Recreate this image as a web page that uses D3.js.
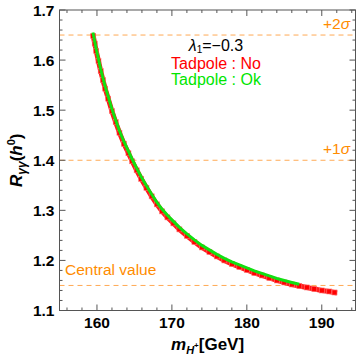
<!DOCTYPE html>
<html>
<head>
<meta charset="utf-8">
<script src="https://cdn.jsdelivr.net/npm/d3@7"></script>
<style>
  body { margin: 0; background: #fff; }
  svg text { font-family: "Liberation Sans", Arial, sans-serif; }
</style>
</head>
<body>
<svg id="chart" width="361" height="359"></svg>
<script>
// --- data ---
const massRed = [159.5, 159.7, 159.9, 160.2, 160.5, 160.8, 161.1, 161.5, 162.0, 162.5, 163.0, 163.6, 164.2, 164.7, 165.3, 165.9, 166.6, 167.3, 168.0, 168.7, 169.4, 170.2, 171.0, 172.0, 173.0, 174.0, 175.0, 176.0, 177.0, 178.0, 179.0, 180.0, 181.0, 182.0, 183.0, 184.0, 185.0, 186.0, 187.0, 188.0, 189.0, 190.0, 191.0, 191.7];
const rRed = [1.648, 1.633, 1.618, 1.598, 1.578, 1.560, 1.543, 1.523, 1.498, 1.476, 1.455, 1.433, 1.414, 1.398, 1.380, 1.363, 1.345, 1.328, 1.312, 1.298, 1.286, 1.274, 1.262, 1.249, 1.237, 1.226, 1.217, 1.208, 1.200, 1.193, 1.187, 1.181, 1.175, 1.170, 1.165, 1.160, 1.156, 1.152, 1.149, 1.146, 1.143, 1.140, 1.138, 1.136];
const massGreen = [159.5, 159.7, 159.9, 160.2, 160.5, 160.8, 161.1, 161.5, 162.0, 162.5, 163.0, 163.6, 164.2, 164.7, 165.3, 165.9, 166.6, 167.3, 168.0, 168.7, 169.4, 170.2, 171.0, 172.0, 173.0, 174.0, 175.0, 176.0, 177.0, 178.0, 179.0, 180.0, 181.0, 182.0, 183.0, 184.0, 185.0, 186.0, 186.8];
const rGreen = [1.652, 1.637, 1.622, 1.602, 1.582, 1.564, 1.547, 1.527, 1.502, 1.480, 1.459, 1.437, 1.418, 1.402, 1.384, 1.367, 1.349, 1.332, 1.316, 1.302, 1.290, 1.278, 1.266, 1.253, 1.241, 1.230, 1.221, 1.212, 1.204, 1.197, 1.191, 1.185, 1.179, 1.174, 1.169, 1.164, 1.160, 1.156, 1.153];

const xTicks = [160, 170, 180, 190];
const yTicks = [1.1, 1.2, 1.3, 1.4, 1.5, 1.6, 1.7];
const refLevels = [1.65, 1.4, 1.15];
const refLabels = ["+2", "+1", "Central value"];

// --- layout ---
const svg = d3.select("#chart");
const pLeft = 59.5, pRight = 355.5, pTop = 10, pBottom = 310.5;
const x = d3.scaleLinear().domain([155, 194.5]).range([pLeft, pRight]);
const y = d3.scaleLinear().domain([1.1, 1.7]).range([pBottom, pTop]);
const orange = "#ff8c00";
const frameColor = "#555";

// --- reference lines ---
svg.selectAll("line.ref").data(refLevels).join("line")
  .attr("class", "ref")
  .attr("x1", pLeft).attr("x2", pRight)
  .attr("y1", d => y(d)).attr("y2", d => y(d))
  .attr("stroke", "#ffaa55")
  .attr("stroke-width", 1)
  .attr("stroke-dasharray", "5,4");

// sigma labels (right aligned) and central value (left)
[0, 1].forEach(i => {
  svg.append("text").attr("x", 350).attr("y", y(refLevels[i]) - 6)
    .attr("text-anchor", "end").attr("font-size", 15.5).attr("fill", orange)
    .html(`${refLabels[i]}<tspan font-style="italic">\u03c3</tspan>`);
});
svg.append("text").attr("x", 65).attr("y", y(refLevels[2]) - 10)
  .attr("font-size", 15.5).attr("fill", orange)
  .text(refLabels[2]);

// --- scatter band ---
const redPts = massRed.map((m, i) => [m, rRed[i]]);
const greenPts = massGreen.map((m, i) => [m, rGreen[i]]);
const line = d3.line().x(d => x(d[0])).y(d => y(d[1]));

svg.append("path").datum(redPts)
  .attr("d", line).attr("fill", "none")
  .attr("stroke", "#ff1a1a").attr("stroke-width", 5)
  .attr("stroke-linecap", "square");
svg.selectAll("rect.red").data(redPts).join("rect")
  .attr("class", "red")
  .attr("x", d => x(d[0]) - 2.5).attr("y", d => y(d[1]) - 2.5)
  .attr("width", 5).attr("height", 5)
  .attr("fill", "#ff0000").attr("stroke", "#ff7777").attr("stroke-width", 0.6);

svg.append("path").datum(greenPts)
  .attr("d", line).attr("fill", "none")
  .attr("stroke", "#11e011").attr("stroke-width", 3)
  .attr("stroke-linecap", "square");

// --- frame + ticks ---
svg.append("rect")
  .attr("x", pLeft).attr("y", pTop)
  .attr("width", pRight - pLeft).attr("height", pBottom - pTop)
  .attr("fill", "none").attr("stroke", frameColor).attr("stroke-width", 1);

const xMinor = d3.range(156, 195, 2).filter(v => v % 10 !== 0);
const yMinor = d3.range(1.12, 1.7, 0.02).filter(v => Math.abs(v * 10 - Math.round(v * 10)) > 0.01);

const tg = svg.append("g").attr("stroke", frameColor).attr("stroke-width", 1);
xTicks.forEach(v => {
  tg.append("line").attr("x1", x(v)).attr("x2", x(v)).attr("y1", pBottom).attr("y2", pBottom - 6);
  tg.append("line").attr("x1", x(v)).attr("x2", x(v)).attr("y1", pTop).attr("y2", pTop + 6);
});
xMinor.forEach(v => {
  tg.append("line").attr("x1", x(v)).attr("x2", x(v)).attr("y1", pBottom).attr("y2", pBottom - 3);
  tg.append("line").attr("x1", x(v)).attr("x2", x(v)).attr("y1", pTop).attr("y2", pTop + 3);
});
yTicks.forEach(v => {
  tg.append("line").attr("x1", pLeft).attr("x2", pLeft + 6).attr("y1", y(v)).attr("y2", y(v));
  tg.append("line").attr("x1", pRight).attr("x2", pRight - 6).attr("y1", y(v)).attr("y2", y(v));
});
yMinor.forEach(v => {
  tg.append("line").attr("x1", pLeft).attr("x2", pLeft + 3).attr("y1", y(v)).attr("y2", y(v));
  tg.append("line").attr("x1", pRight).attr("x2", pRight - 3).attr("y1", y(v)).attr("y2", y(v));
});

// tick labels
svg.selectAll("text.xt").data(xTicks).join("text")
  .attr("class", "xt")
  .attr("x", d => x(d)).attr("y", 328)
  .attr("text-anchor", "middle").attr("font-size", 15.5).attr("font-weight", "bold")
  .text(d => d);
svg.selectAll("text.yt").data(yTicks).join("text")
  .attr("class", "yt")
  .attr("x", 54.5).attr("y", d => y(d) + 5.6)
  .attr("text-anchor", "end").attr("font-size", 15.5).attr("font-weight", "bold")
  .text(d => d.toFixed(1));

// --- axis titles ---
svg.append("text")
  .attr("x", 171).attr("y", 350)
  .attr("font-size", 17).attr("font-weight", "bold")
  .html(`<tspan font-style="italic">m</tspan><tspan font-style="italic" font-size="11" dy="4">H</tspan><tspan font-size="8" dy="-6">+</tspan><tspan dy="2">[GeV]</tspan>`);

svg.append("text")
  .attr("transform", `translate(22,${(pTop + pBottom) / 2}) rotate(-90)`)
  .attr("text-anchor", "middle")
  .attr("font-size", 17).attr("font-weight", "bold")
  .html(`<tspan font-style="italic">R</tspan><tspan font-style="italic" font-size="12" dy="4">\u03b3\u03b3</tspan><tspan dy="-4">(</tspan><tspan font-style="italic">h</tspan><tspan font-size="11" dy="-7">0</tspan><tspan dy="7">)</tspan>`);

// --- legend text ---
const cx = 216;
svg.append("text").attr("x", cx).attr("y", 51)
  .attr("text-anchor", "middle").attr("font-size", 16).attr("fill", "#000")
  .html(`<tspan font-style="italic">\u03bb</tspan><tspan font-size="10" dy="2">1</tspan><tspan dy="-2">=\u22120.3</tspan>`);
svg.append("text").attr("x", cx).attr("y", 69)
  .attr("text-anchor", "middle").attr("font-size", 16).attr("fill", "#ff0000")
  .text("Tadpole : No");
svg.append("text").attr("x", cx).attr("y", 85)
  .attr("text-anchor", "middle").attr("font-size", 16).attr("fill", "#00e600")
  .text("Tadpole : Ok");
</script>
</body>
</html>
